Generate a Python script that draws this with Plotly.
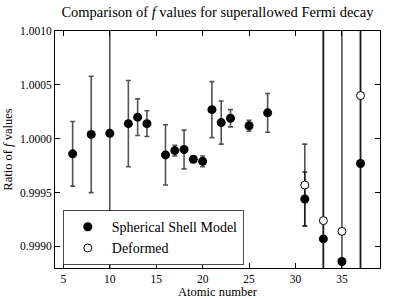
import plotly.graph_objects as go

# Spherical shell model data
z_sph = [6, 8, 10, 12, 13, 14, 16, 17, 18, 19, 20, 21, 22, 23, 25, 27, 31, 33, 35, 37]
ratio_sph = [0.99986, 1.00004, 1.00005, 1.00014, 1.00020, 1.00014, 0.99985, 0.99989,
             0.99990, 0.99981, 0.99979, 1.00027, 1.00015, 1.00019, 1.00012, 1.00024,
             0.99944, 0.99907, 0.99886, 0.99977]
err_sph = [0.00030, 0.00054, 0.005, 0.00040, 0.00017, 0.00012, 0.00028, 0.00005,
           0.00018, 0.00003, 0.00005, 0.00026, 0.00020, 0.00008, 0.00005, 0.00018,
           0.00025, 0.005, 0.005, 0.005]

# Deformed data
z_def = [31, 33, 35, 37]
ratio_def = [0.99957, 0.99924, 0.99914, 1.00040]
err_def = [0.00038, 0.005, 0.0, 0.005]

FONT = "Times New Roman, Liberation Serif, serif"
ecol = "rgba(0,0,0,0.68)"

fig = go.Figure()
fig.add_trace(go.Scatter(
    x=z_sph, y=ratio_sph, mode="markers", name="Spherical Shell Model",
    marker=dict(color="black", size=9, symbol="circle"),
    error_y=dict(type="data", array=err_sph, visible=True, color=ecol,
                 thickness=1.6, width=2.5),
))
fig.add_trace(go.Scatter(
    x=z_def, y=ratio_def, mode="markers", name="Deformed",
    marker=dict(color="white", size=8, symbol="circle",
                line=dict(color="black", width=1)),
    error_y=dict(type="data", array=err_def, visible=True, color=ecol,
                 thickness=1.6, width=2.5),
))

axis_common = dict(
    showline=True, linecolor="black", linewidth=1, mirror="ticks",
    ticks="inside", ticklen=5, tickcolor="black", tickwidth=1,
    showgrid=False, zeroline=False, automargin=False,
    tickfont=dict(family=FONT, size=11.5, color="black"),
)

fig.update_layout(
    width=399, height=299,
    margin=dict(l=55, r=19, t=31, b=31),
    paper_bgcolor="white", plot_bgcolor="white",
    font=dict(family=FONT, color="black"),
    title=dict(text="Comparison of <i>f</i> values for superallowed Fermi decay",
               x=0.545, xanchor="center", y=0.96, yanchor="middle",
               font=dict(family=FONT, size=14.5, color="black")),
    xaxis=dict(range=[4.1, 39.1], dtick=5, tick0=0,
               title=dict(text="Atomic number", standoff=2,
                          font=dict(family=FONT, size=12.5, color="black")),
               **axis_common),
    yaxis=dict(range=[0.99880, 1.0010], dtick=0.0005, tick0=1.0, tickformat=".4f",
               title=dict(text="Ratio of <i>f</i> values", standoff=4,
                          font=dict(family=FONT, size=12.5, color="black")),
               **axis_common),
    legend=dict(x=0.024, y=0.012, xanchor="left", yanchor="bottom",
                bgcolor="white", bordercolor="rgba(0,0,0,0.7)", borderwidth=1,
                font=dict(family=FONT, size=14, color="black"),
                tracegroupgap=0, itemwidth=38),
    showlegend=True,
)

fig.write_html("out.html", config={"displayModeBar": False},
               post_script="document.body.style.margin='0';")
